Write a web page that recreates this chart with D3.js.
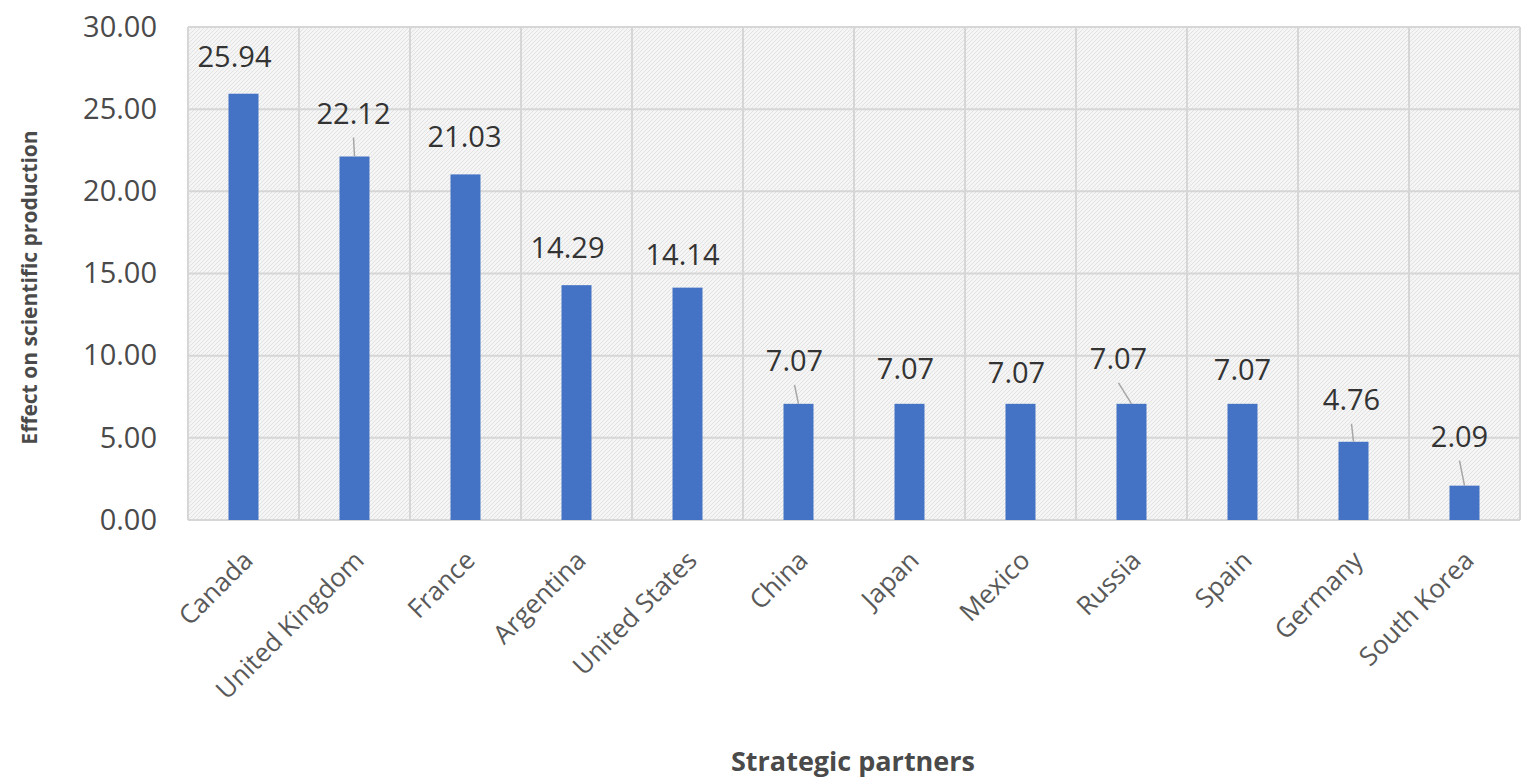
<!DOCTYPE html>
<html>
<head>
<meta charset="utf-8">
<title>Strategic partners</title>
<script src="https://cdnjs.cloudflare.com/ajax/libs/d3/7.8.5/d3.min.js"></script>
<style>
    html, body {
        margin: 0;
        padding: 0;
        background: #ffffff;
        font-family: 'Open Sans', sans-serif;
    }
    #chart {
        width: 1521px;
        height: 778px;
    }
</style>
</head>
<body>
<div id="chart"></div>
<script>
    // data
    const partners = ['Canada', 'United Kingdom', 'France', 'Argentina', 'United States', 'China',
        'Japan', 'Mexico', 'Russia', 'Spain', 'Germany', 'South Korea'];
    const effect = [25.94, 22.12, 21.03, 14.29, 14.14, 7.07, 7.07, 7.07, 7.07, 7.07, 4.76, 2.09];
    const yTicks = [0, 5, 10, 15, 20, 25, 30];

    // label nudges (px from bar top centre) and which ones get a leader line
    const labelNudge = [[-9, -37], [-1, -43], [-1, -38], [-9, -37], [-5, -33], [-4, -43],
        [-4, -35], [-4, -31], [-13, -45], [0, -34], [-2, -42], [-5, -49]];
    const hasLeader = [false, true, false, false, false, true, false, false, true, false, true, true];

    const width = 1521, height = 778;
    const margin = { top: 27, right: 1, bottom: 258, left: 188 };

    const svg = d3.select('#chart')
        .append('svg')
        .attr('width', width)
        .attr('height', height);

    // faint diagonal hatching behind the plot
    const defs = svg.append('defs');
    const pat = defs.append('pattern')
        .attr('id', 'hatch')
        .attr('patternUnits', 'userSpaceOnUse')
        .attr('width', 4)
        .attr('height', 4);
    pat.append('rect').attr('width', 4).attr('height', 4).attr('fill', '#f5f5f5');
    pat.append('path')
        .attr('d', 'M-1,1 l2,-2 M0,4 l4,-4 M3,5 l2,-2')
        .attr('stroke', '#e2e2e2')
        .attr('stroke-width', 1);

    const x = d3.scaleBand()
        .domain(partners)
        .range([margin.left, width - margin.right])
        .paddingInner(0)
        .paddingOuter(0);

    const y = d3.scaleLinear()
        .domain([0, 30])
        .range([height - margin.bottom, margin.top]);

    svg.append('rect')
        .attr('x', margin.left)
        .attr('y', margin.top)
        .attr('width', width - margin.right - margin.left)
        .attr('height', y(0) - margin.top)
        .attr('fill', 'url(#hatch)');

    // horizontal grid
    svg.append('g')
        .selectAll('line')
        .data(yTicks)
        .enter()
        .append('line')
        .attr('x1', margin.left)
        .attr('x2', width - margin.right)
        .attr('y1', d => y(d))
        .attr('y2', d => y(d))
        .attr('stroke', '#d6d6d6')
        .attr('stroke-width', 2);

    // vertical grid at category boundaries
    const bounds = partners.map(p => x(p)).concat([width - margin.right]);
    svg.append('g')
        .selectAll('line')
        .data(bounds)
        .enter()
        .append('line')
        .attr('x1', d => d)
        .attr('x2', d => d)
        .attr('y1', margin.top)
        .attr('y2', y(0))
        .attr('stroke', '#d6d6d6')
        .attr('stroke-width', 2);

    // y axis labels
    const yAxis = d3.axisLeft(y)
        .tickValues(yTicks)
        .tickSize(0)
        .tickPadding(31)
        .tickFormat(d => d.toFixed(2));

    const gy = svg.append('g')
        .attr('transform', `translate(${margin.left},0)`)
        .call(yAxis);
    gy.select('.domain').remove();
    gy.selectAll('text')
        .attr('fill', '#4a4a4a')
        .style('font-family', "'Open Sans', sans-serif")
        .style('font-size', '29px');

    // x axis labels
    const xAxis = d3.axisBottom(x).tickSize(0).tickPadding(0);
    const gx = svg.append('g')
        .attr('transform', `translate(0,${y(0)})`)
        .call(xAxis);
    gx.select('.domain').remove();
    gx.selectAll('text')
        .attr('fill', '#595959')
        .style('font-family', "'Open Sans', sans-serif")
        .style('font-size', '26px')
        .attr('text-anchor', 'end')
        .attr('dy', 0)
        .attr('transform', 'translate(11,42) rotate(-45)');

    // bars
    const barW = 30;
    svg.append('g')
        .selectAll('rect')
        .data(effect)
        .enter()
        .append('rect')
        .attr('x', (d, i) => x(partners[i]) + x.bandwidth() / 2 - barW / 2)
        .attr('y', d => y(d))
        .attr('width', barW)
        .attr('height', d => y(0) - y(d))
        .attr('fill', '#4472c4');

    // leader lines
    svg.append('g')
        .selectAll('line')
        .data(effect.map((d, i) => i).filter(i => hasLeader[i]))
        .enter()
        .append('line')
        .attr('x1', i => x(partners[i]) + x.bandwidth() / 2 + labelNudge[i][0])
        .attr('y1', i => y(effect[i]) + labelNudge[i][1] + 24)
        .attr('x2', i => x(partners[i]) + x.bandwidth() / 2)
        .attr('y2', i => y(effect[i]))
        .attr('stroke', '#a6a6a6')
        .attr('stroke-width', 1.5);

    // data labels
    svg.append('g')
        .selectAll('text')
        .data(effect)
        .enter()
        .append('text')
        .attr('x', (d, i) => x(partners[i]) + x.bandwidth() / 2 + labelNudge[i][0])
        .attr('y', (d, i) => y(d) + labelNudge[i][1])
        .attr('dy', '0.35em')
        .attr('text-anchor', 'middle')
        .attr('fill', '#333333')
        .style('font-size', '29px')
        .text(d => d.toFixed(2));

    // axis titles
    svg.append('text')
        .attr('transform', `translate(30,${(margin.top + y(0)) / 2 + 14}) rotate(-90)`)
        .attr('dy', '0.35em')
        .attr('text-anchor', 'middle')
        .attr('fill', '#4a4a4a')
        .style('font-weight', 'bold')
        .style('font-size', '21px')
        .text('Effect on scientific production');

    svg.append('text')
        .attr('x', 853)
        .attr('y', 762)
        .attr('dy', '0.35em')
        .attr('text-anchor', 'middle')
        .attr('fill', '#4a4a4a')
        .style('font-weight', 'bold')
        .style('font-size', '27px')
        .text('Strategic partners');
</script>
</body>
</html>
